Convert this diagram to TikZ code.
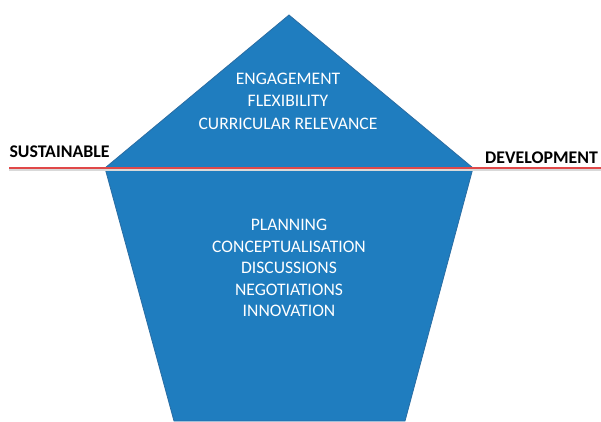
\documentclass[tikz,border=0pt]{standalone}
\usepackage{fontspec}
\setmainfont{Carlito}
\definecolor{penta}{HTML}{1F7DBF}
\definecolor{pentaedge}{HTML}{2A6DA3}
\definecolor{redline}{HTML}{E04848}
\begin{document}
\begin{tikzpicture}[x=1pt,y=-1pt,
  inner/.style={text=white,font=\fontsize{17.6}{22.5}\selectfont,align=center},
  side/.style={text=black,font=\fontsize{17.8}{20}\selectfont\bfseries,anchor=center}]
\useasboundingbox (0,0) rectangle (601,421);
\coordinate (apex) at (289,15);
\coordinate (left) at (105,168);
\coordinate (right) at (473,168);
\coordinate (bl) at (174,421);
\coordinate (br) at (405,421);
\fill[penta,draw=pentaedge,line width=0.8pt] (apex) -- (right) -- (br) -- (bl) -- (left) -- cycle;
\coordinate (ls) at (9,168);
\coordinate (le) at (601,168);
\draw[black!15,line width=2pt] ([yshift=-1.5pt]ls) -- ([yshift=-1.5pt]le);
\draw[redline,line width=1.8pt] (ls) -- (le);
\node[inner] (top) at (288,101) {ENGAGEMENT\\FLEXIBILITY\\CURRICULAR RELEVANCE};
\node[inner,font=\fontsize{17.6}{21.5}\selectfont] (bottom) at (289,268) {PLANNING\\CONCEPTUALISATION\\DISCUSSIONS\\NEGOTIATIONS\\INNOVATION};
\node[side] (sus) at (59.5,152) {SUSTAINABLE};
\node[side] (dev) at (541.5,158) {DEVELOPMENT};
\end{tikzpicture}
\end{document}
